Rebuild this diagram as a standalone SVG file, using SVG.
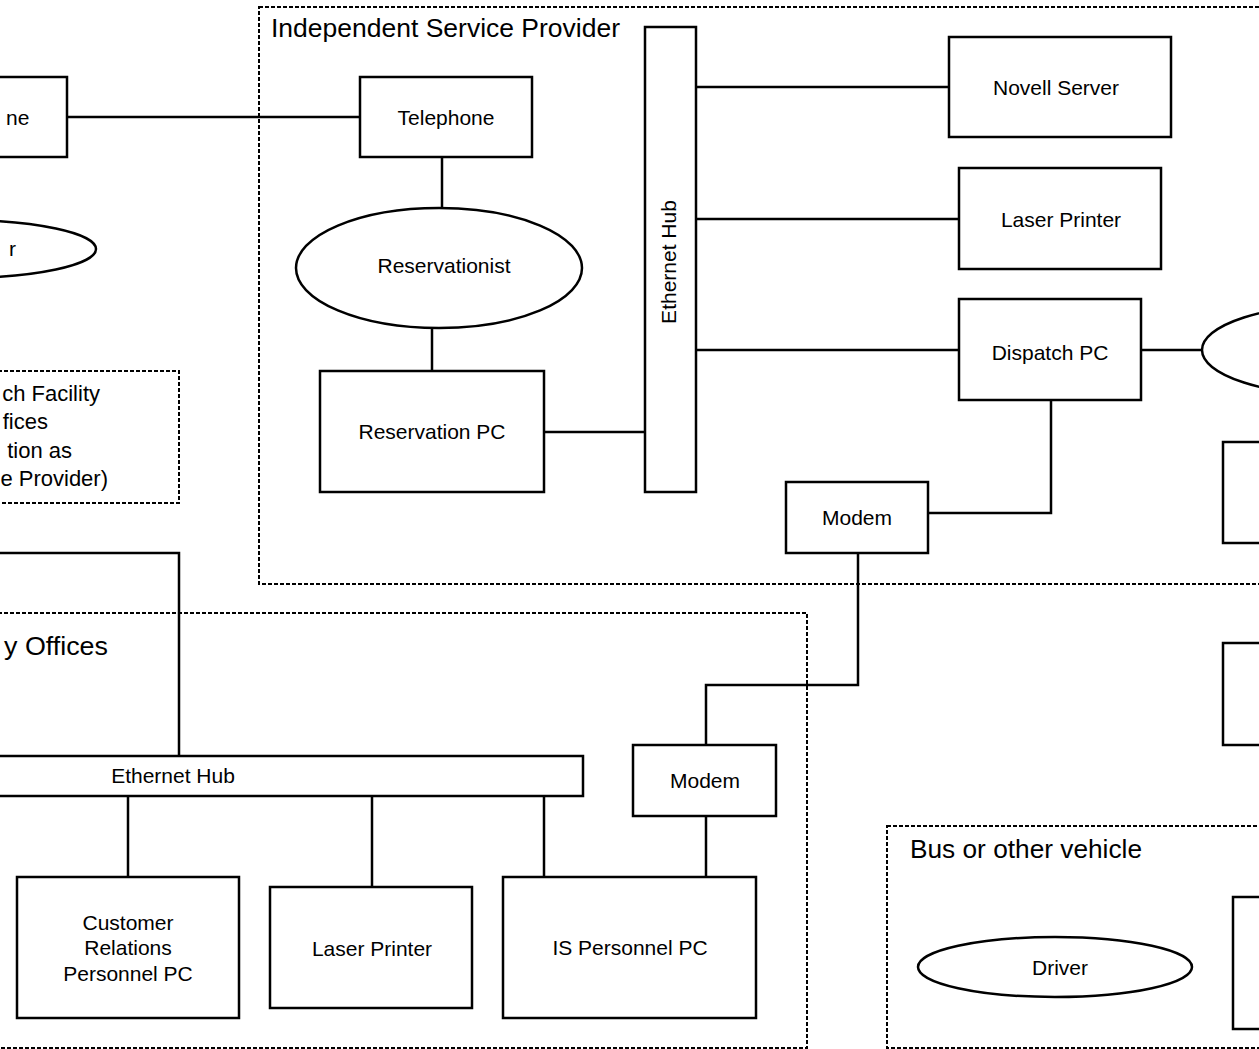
<svg xmlns="http://www.w3.org/2000/svg" width="1259" height="1049" viewBox="0 0 1259 1049">
<style>
.bx{fill:#fff;stroke:#000;stroke-width:2.5}
.el{fill:#fff;stroke:#000;stroke-width:2.5}
.ln{fill:none;stroke:#000;stroke-width:2.5}
.grp{fill:none;stroke:#000;stroke-width:2;stroke-dasharray:4 2}
.t{font-family:"Liberation Sans",Arial,Helvetica,sans-serif;font-size:21px;fill:#000}
.f{font-family:"Liberation Sans",Arial,Helvetica,sans-serif;font-size:22px;fill:#000}
.c{text-anchor:middle}
.e{text-anchor:end}
.ttl{font-family:"Liberation Sans",Arial,Helvetica,sans-serif;font-size:25px;fill:#000}
</style>
<rect width="1259" height="1049" fill="#fff"/>

<g id="groups">
  <rect id="isp" class="grp" x="259" y="7" width="1020" height="577"/>
  <rect id="dispatch-facility" class="grp" x="-20" y="371" width="199" height="132"/>
  <rect id="company-offices" class="grp" x="-20" y="613" width="827" height="435"/>
  <rect id="bus" class="grp" x="887" y="826" width="400" height="222"/>
</g>

<g id="titles">
  <text class="ttl" x="271" y="37" textLength="349" lengthAdjust="spacingAndGlyphs">Independent Service Provider</text>
  <text class="ttl" x="4" y="655" textLength="104" lengthAdjust="spacingAndGlyphs">y Offices</text>
  <text class="ttl" x="910" y="858" textLength="232" lengthAdjust="spacingAndGlyphs">Bus or other vehicle</text>
  <text class="f e" x="100" y="401">ch Facility</text>
  <text class="f e" x="48" y="429">fices</text>
  <text class="f e" x="72" y="458">tion as</text>
  <text class="f e" x="108" y="486">e Provider)</text>
</g>

<g id="connectors">
  <line class="ln" x1="67" y1="117" x2="360" y2="117"/>
  <line class="ln" x1="442" y1="157" x2="442" y2="208"/>
  <line class="ln" x1="432" y1="329" x2="432" y2="371"/>
  <line class="ln" x1="544" y1="432" x2="645" y2="432"/>
  <line class="ln" x1="696" y1="87" x2="949" y2="87"/>
  <line class="ln" x1="696" y1="219" x2="959" y2="219"/>
  <line class="ln" x1="696" y1="350" x2="959" y2="350"/>
  <line class="ln" x1="1141" y1="350" x2="1202" y2="350"/>
  <polyline class="ln" points="1051,401 1051,513 928,513"/>
  <polyline class="ln" points="858,553 858,685 706,685 706,745"/>
  <line class="ln" x1="706" y1="816" x2="706" y2="877"/>
  <polyline class="ln" points="0,553 179,553 179,756"/>
  <line class="ln" x1="128" y1="796" x2="128" y2="877"/>
  <line class="ln" x1="372" y1="794" x2="372" y2="887"/>
  <line class="ln" x1="544" y1="796" x2="544" y2="877"/>
</g>

<g id="telephone-left">
  <rect class="bx" x="-104" y="77" width="171" height="80"/>
  <text class="t" x="6" y="125">ne</text>
</g>
<g id="person-left">
  <ellipse class="el" cx="-41" cy="249" rx="137" ry="29"/>
  <text class="t" x="9" y="256">r</text>
</g>
<g id="telephone">
  <rect class="bx" x="360" y="77" width="172" height="80"/>
  <text class="t c" x="446" y="125">Telephone</text>
</g>
<g id="reservationist">
  <ellipse class="el" cx="439" cy="268" rx="143" ry="60"/>
  <text class="t c" x="444" y="273">Reservationist</text>
</g>
<g id="reservation-pc">
  <rect class="bx" x="320" y="371" width="224" height="121"/>
  <text class="t c" x="432" y="439">Reservation PC</text>
</g>
<g id="ethernet-hub-isp">
  <rect class="bx" x="645" y="27" width="51" height="465"/>
  <text class="t c" transform="translate(676,262) rotate(-90)">Ethernet Hub</text>
</g>
<g id="novell-server">
  <rect class="bx" x="949" y="37" width="222" height="100"/>
  <text class="t c" x="1056" y="95">Novell Server</text>
</g>
<g id="laser-printer-isp">
  <rect class="bx" x="959" y="168" width="202" height="101"/>
  <text class="t c" x="1061" y="227">Laser Printer</text>
</g>
<g id="dispatch-pc">
  <rect class="bx" x="959" y="299" width="182" height="101"/>
  <text class="t c" x="1050" y="360">Dispatch PC</text>
</g>
<g id="dispatcher-right">
  <ellipse class="el" cx="1345" cy="350" rx="143" ry="46"/>
</g>
<g id="right-box-1">
  <rect class="bx" x="1223" y="442" width="60" height="101"/>
</g>
<g id="right-box-2">
  <rect class="bx" x="1223" y="643" width="60" height="102"/>
</g>
<g id="modem-isp">
  <rect class="bx" x="786" y="482" width="142" height="71"/>
  <text class="t c" x="857" y="525">Modem</text>
</g>
<g id="modem-offices">
  <rect class="bx" x="633" y="745" width="143" height="71"/>
  <text class="t c" x="705" y="788">Modem</text>
</g>
<g id="ethernet-hub-offices">
  <rect class="bx" x="-20" y="756" width="603" height="40"/>
  <text class="t c" x="173" y="783">Ethernet Hub</text>
</g>
<g id="customer-relations-pc">
  <rect class="bx" x="17" y="877" width="222" height="141"/>
  <text class="t c" x="128" y="930">Customer</text>
  <text class="t c" x="128" y="955">Relations</text>
  <text class="t c" x="128" y="981">Personnel PC</text>
</g>
<g id="laser-printer-offices">
  <rect class="bx" x="270" y="887" width="202" height="121"/>
  <text class="t c" x="372" y="956">Laser Printer</text>
</g>
<g id="is-personnel-pc">
  <rect class="bx" x="503" y="877" width="253" height="141"/>
  <text class="t c" x="630" y="955">IS Personnel PC</text>
</g>
<g id="driver">
  <ellipse class="el" cx="1055" cy="967" rx="137" ry="30"/>
  <text class="t c" x="1060" y="975">Driver</text>
</g>
<g id="bus-box">
  <rect class="bx" x="1233" y="897" width="60" height="132"/>
</g>
</svg>
